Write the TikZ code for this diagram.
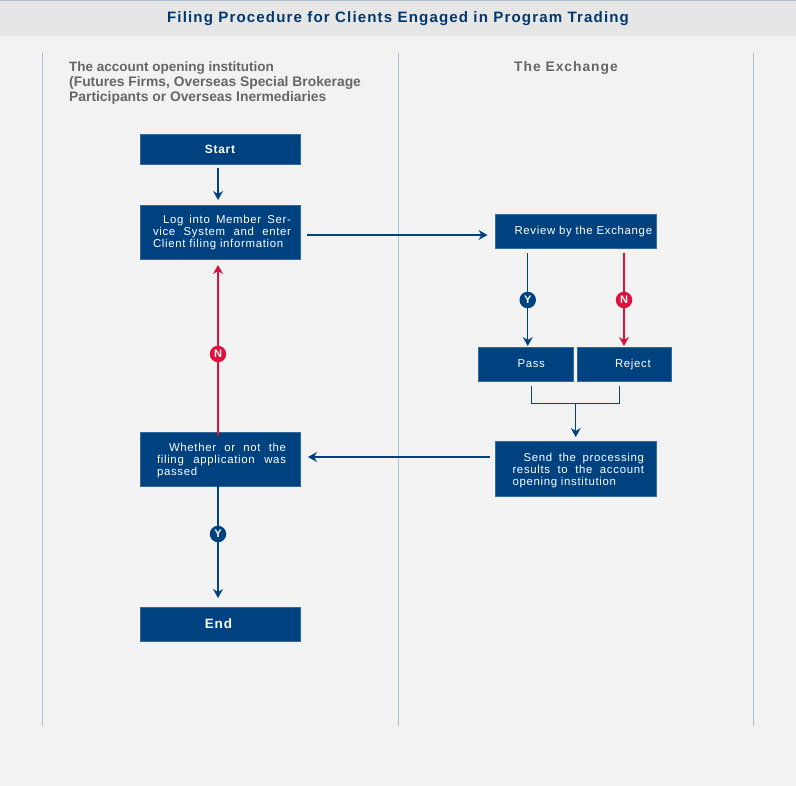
\documentclass[tikz,border=0pt]{standalone}
\usepackage{fontspec}
\setmainfont{Liberation Sans}
\newfontfamily\spaced[LetterSpace=6]{Liberation Sans}
\newfontfamily\spacedtitle[LetterSpace=7.5]{Liberation Sans}
\newfontfamily\spacedhead[LetterSpace=7]{Liberation Sans}
\usetikzlibrary{arrows.meta,calc}
\definecolor{bg}{HTML}{F2F2F3}
\definecolor{band}{HTML}{E6E6E7}
\definecolor{navy}{HTML}{00427F}
\definecolor{crimson}{HTML}{E0103A}
\definecolor{lane}{HTML}{AFBFD0}
\definecolor{headgray}{HTML}{666666}
\newcommand{\jl}[3]{\hspace*{#1pt}\makebox[#2pt][s]{\spaceskip=.3em plus 1fil\relax #3}}
\tikzset{
  x=1pt,y=-1pt,
  flowbox/.style={fill=navy,draw=navy!80!white,line width=.5pt,text=white,inner xsep=0pt,inner ysep=0pt,outer sep=0pt,align=left,
    font=\fontsize{11.4}{12}\selectfont\spaced,anchor=north west},
  yes/.style={draw=navy,line width=1.25pt,-{Stealth[length=9pt,width=10pt,inset=3pt]}},
  no/.style={draw=crimson,line width=1.25pt,-{Stealth[length=9pt,width=10pt,inset=3pt]}},
  plainline/.style={draw=navy,line width=1pt},
  badge/.style={circle,inner sep=0pt,minimum size=16.5pt,text=white,font=\fontsize{11}{11}\selectfont\bfseries},
  lanerule/.style={draw=lane,line width=.9pt},
  lanehead/.style={text=headgray,font=\fontsize{13.85}{15}\selectfont\bfseries,align=left,inner sep=0pt}
}
\begin{document}
\begin{tikzpicture}
\useasboundingbox (0,0) rectangle (796,786);
\fill[bg] (0,0) rectangle (796,786);
\fill[band] (0,0) rectangle (796,36);
\fill[lane] (0,0) rectangle (796,1);
\node[inner sep=0pt,text=navy!85!black,font=\fontsize{15.1}{16}\selectfont\bfseries\spacedtitle] (title) at (398,19) {Filing Procedure for Clients Engaged in Program Trading};
\coordinate (laneAtop) at (42.5,53); \coordinate (laneAbot) at (42.5,726);
\coordinate (laneBtop) at (398.5,53); \coordinate (laneBbot) at (398.5,726);
\coordinate (laneCtop) at (753.5,53); \coordinate (laneCbot) at (753.5,726);
\draw[lanerule] (laneAtop) -- (laneAbot);
\draw[lanerule] (laneBtop) -- (laneBbot);
\draw[lanerule] (laneCtop) -- (laneCbot);
\node[lanehead,anchor=north west] (headA) at (69,61.5) {{\fontsize{13.5}{15}\selectfont The account opening institution}\\(Futures Firms, Overseas Special Brokerage\\Participants or Overseas Inermediaries};
\node[lanehead,anchor=north west,font=\fontsize{13.85}{15}\selectfont\bfseries\spacedhead] (headB) at (514,61.5) {The Exchange};

\node[flowbox,minimum width=160pt,minimum height=30.5pt,align=center,text width=160pt,font=\fontsize{12}{12}\selectfont\bfseries\spaced] (start) at (140,134) {Start};
\node[flowbox,minimum width=160pt,minimum height=54.5pt,text width=160pt] (login) at (140,205)
 {\jl{23}{128}{Log into Member Ser-}\\\jl{13}{138}{vice System and enter}\\\hspace*{13pt}Client filing information};
\node[flowbox,minimum width=160.5pt,minimum height=34.5pt,text width=160.5pt] (review) at (495.5,214) {\hspace*{19pt}Review by the Exchange};
\node[flowbox,minimum width=94.5pt,minimum height=34pt,text width=94.5pt] (pass) at (478.5,347) {\rule[-3pt]{0pt}{13pt}\hspace*{39pt}Pass};
\node[flowbox,minimum width=94.5pt,minimum height=34pt,text width=94.5pt] (reject) at (577,347) {\rule[-3pt]{0pt}{13pt}\hspace*{38pt}Reject};
\node[flowbox,minimum width=160.5pt,minimum height=55pt,text width=160.5pt] (send) at (495.5,441)
 {\rule{0pt}{12pt}\jl{28}{120.5}{Send the processing}\\\jl{17}{131.5}{results to the account}\\\hspace*{17pt}opening institution};
\node[flowbox,minimum width=160pt,minimum height=54pt,text width=160pt] (whether) at (140,432)
 {\rule{0pt}{12pt}\jl{29}{117}{Whether or not the}\\\jl{17}{129}{filing application was}\\\hspace*{17pt}passed};
\node[flowbox,minimum width=160pt,minimum height=34pt,align=center,text width=160pt,font=\fontsize{13.5}{14}\selectfont\bfseries\spaced] (end) at (140,607) {\rule[-1pt]{0pt}{9pt}\hspace*{-3pt}End};

\draw[yes] ([xshift=-2pt,yshift=-3.5pt]start.south) -- ([xshift=-2pt,yshift=5pt]login.north);
\draw[yes] ([xshift=7pt,yshift=-2.75pt]login.east) -- ([xshift=-8pt,yshift=-3.75pt]review.west);
\draw[yes] ([xshift=-48pt,yshift=-4.5pt]review.south) -- ([xshift=2pt,yshift=1pt]pass.north);
\draw[no] ([xshift=48.2pt,yshift=-4.5pt]review.south) -- ([xshift=-0.3pt,yshift=1pt]reject.north);
\node[badge,fill=navy] (ybadge1) at (527.7,300) {Y};
\node[badge,fill=crimson] (nbadge1) at (624,300) {N};
\draw[plainline] ([xshift=6pt,yshift=-5pt]pass.south) -- ++(0,17.5) -| ([xshift=-5pt,yshift=-5pt]reject.south);
\draw[yes] ([yshift=-22.5pt]pass.south -| send.north) -- ([yshift=4pt]send.north);
\draw[yes] ([xshift=-5.5pt,yshift=11.5pt]send.west) -- ([xshift=8pt,yshift=2pt]whether.east);
\draw[no] ([xshift=-2pt,yshift=-4pt]whether.north) -- ([xshift=-2pt,yshift=-5.5pt]login.south);
\node[badge,fill=crimson] (nbadge2) at (218,354) {N};
\draw[yes] ([xshift=-2pt]whether.south) -- ([xshift=-2pt,yshift=9pt]end.north);
\node[badge,fill=navy] (ybadge2) at (218,534) {Y};
\end{tikzpicture}
\end{document}
